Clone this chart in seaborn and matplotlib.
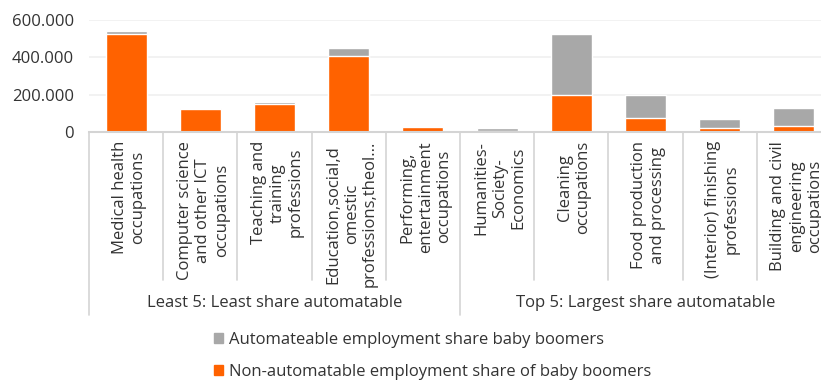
import matplotlib
matplotlib.use("Agg")
import matplotlib.pyplot as plt
import matplotlib.patches as mpatches
import seaborn as sns
import pandas as pd

# Occupational groups, ordered as two groups of five
categories = [
    "Medical health\noccupations",
    "Computer science\nand other ICT\noccupations",
    "Teaching and\ntraining\nprofessions",
    "Education,social,d\nomestic\nprofessions,theol...",
    "Performing,\nentertainment\noccupations",
    "Humanities-\nSociety-\nEconomics",
    "Cleaning\noccupations",
    "Food production\nand processing",
    "(Interior) finishing\nprofessions",
    "Building and civil\nengineering\noccupations",
]
groups = ["Least 5: Least share automatable", "Top 5: Largest share automatable"]

# Baby boomer employment (persons)
non_automatable = [527000, 123000, 151000, 408000, 26000, 7000, 198000, 75000, 19000, 32000]
automatable = [16000, 5000, 11000, 44000, 2000, 12000, 329000, 123000, 52000, 96000]

yticks = [0, 200000, 400000, 600000]
ytick_labels = ["0", "200.000", "400.000", "600.000"]

ORANGE = "#FF6200"
GREY = "#A8A8A8"
TEXT = "#333333"
LINE = "#D4D4D4"

df = pd.DataFrame({
    "category": categories,
    "non_automatable": non_automatable,
    "automatable": automatable,
})
df["total"] = df["non_automatable"] + df["automatable"]

sns.set_theme(style="white")
plt.rcParams["font.family"] = ["Open Sans", "DejaVu Sans"]

W, H = 821, 387
fig = plt.figure(figsize=(W / 100, H / 100), dpi=100)

# Axes geometry in pixels (plot runs past the right edge of the canvas)
ax_left, ax_top, ax_bottom, ax_right = 89, 20, 132, 831
ax = fig.add_axes([ax_left / W, (H - ax_bottom) / H,
                   (ax_right - ax_left) / W, (ax_bottom - ax_top) / H])

sns.barplot(data=df, x="category", y="total", color=GREY, width=0.55,
            saturation=1, ax=ax, zorder=2)
sns.barplot(data=df, x="category", y="non_automatable", color=ORANGE, width=0.55,
            saturation=1, ax=ax, zorder=3)

ax.set_xlim(-0.5, len(categories) - 0.5)
ax.set_ylim(0, 600000)
ax.set_yticks(yticks)
ax.set_yticklabels(ytick_labels)
ax.tick_params(axis="y", length=0, pad=11, labelsize=12, labelcolor=TEXT)
ax.set_xticks([])
ax.set_xlabel("")
ax.set_ylabel("")
for s in ["top", "right", "left"]:
    ax.spines[s].set_visible(False)
ax.spines["bottom"].set_color(LINE)
ax.spines["bottom"].set_linewidth(1.5)
ax.spines["bottom"].set_zorder(4)
for yv in yticks[1:]:
    ax.axhline(yv, color="#F0F0F0", lw=1.2, zorder=0)

axh = ax_bottom - ax_top


def ypx(p):
    """Convert a figure pixel row (from top) into an axes fraction."""
    return (ax_bottom - p) / axh


trans = ax.get_xaxis_transform()

# Category labels, rotated inside their boxes
for i, lab in enumerate(categories):
    ax.text(i + 0.04, ypx(141), lab, rotation=90, ha="center", va="top",
            multialignment="center", fontsize=12, color=TEXT,
            transform=trans, clip_on=False, linespacing=1.2)

# Box separators of the two-level category axis
for i in range(len(categories) + 1):
    x = i - 0.5
    bottom = 315 if i in (0, 5, 10) else 280
    ax.plot([x, x], [ypx(ax_bottom), ypx(bottom)], color=LINE, lw=1.2,
            transform=trans, clip_on=False)

# Group labels
for g, lab in enumerate(groups):
    ax.text(g * 5 + 2, ypx(303), lab, ha="center", va="center", fontsize=12,
            color=TEXT, transform=trans, clip_on=False)

handles = [
    mpatches.Patch(color=GREY, label="Automateable employment share baby boomers"),
    mpatches.Patch(color=ORANGE, label="Non-automatable employment share of baby boomers"),
]
fig.legend(handles=handles, loc="upper left", bbox_to_anchor=(214 / W, 1 - 332 / H),
           frameon=False, fontsize=12, handlelength=0.55, handleheight=0.55,
           handletextpad=0.35, labelspacing=0.95, borderpad=0, borderaxespad=0,
           labelcolor=TEXT)

fig.savefig("out.png", dpi=100)
